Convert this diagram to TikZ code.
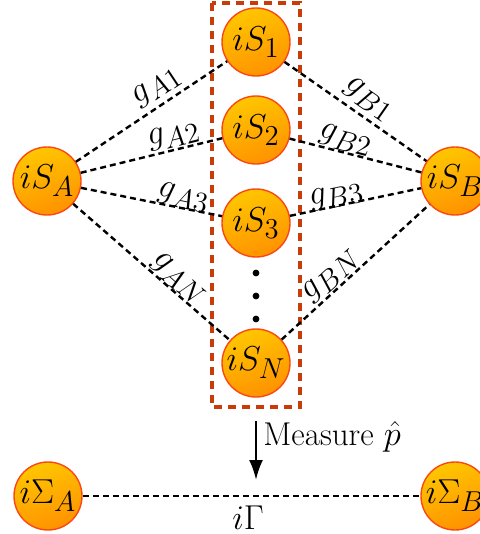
\documentclass[tikz,border=0pt]{standalone}
\usetikzlibrary{arrows.meta}
\definecolor{ballTop}{RGB}{255,198,0}
\definecolor{ballBot}{RGB}{255,146,0}
\definecolor{ballRim}{RGB}{250,72,20}
\definecolor{boxRed}{RGB}{200,60,10}
\tikzset{
  site/.style={circle, minimum size=34pt, inner sep=0pt, draw=ballRim, line width=0.7pt,
    top color=ballTop, bottom color=ballBot, shading angle=20,
    font=\fontsize{19}{22}\selectfont},
  coupling/.style={dash pattern=on 3pt off 2pt, line width=1.2pt, black},
  glabel/.style={sloped, anchor=base, inner sep=0pt, yshift=#1,
    font=\fontsize{19}{22}\selectfont},
  glabel/.default=3pt,
  txt/.style={font=\fontsize{16.5}{20}\selectfont},
}
\begin{document}
\begin{tikzpicture}[x=0.5pt, y=-0.5pt]
  \clip (0,0) rectangle (480,534);

  % dashed frame round the middle column
  \draw[boxRed, line width=1.6pt, dash pattern=on 4pt off 3pt] (212,3) rectangle (300,407);

  % sites
  \node[site] (SA) at (47,181) {$iS_A$};
  \node[site] (SB) at (455,181) {$iS_B$};
  \node[site] (S1) at (256,42) {$iS_1$};
  \node[site] (S2) at (256,130) {$iS_2$};
  \node[site] (S3) at (256,223) {$iS_3$};
  \node[site] (SN) at (256,363) {$iS_N$};

  % vertical ellipsis
  \foreach \yy [count=\k] in {273,296,319}
    \fill (256,\yy) circle (1.7pt) coordinate (dot\k);

  % couplings from A
  \draw[coupling] (SA) -- node[glabel=7pt, pos=0.60] {$g_{A1}$} (S1);
  \draw[coupling] (SA) -- node[glabel=5pt, pos=0.68] {$g_{A2}$} (S2);
  \draw[coupling] (SA) -- node[glabel=3.5pt, pos=0.71] {$g_{A3}$} (S3);
  \draw[coupling] (SA) -- node[glabel=4.5pt, pos=0.62] {$g_{AN}$} (SN);

  % couplings from B
  \draw[coupling] (S1) -- node[glabel=7pt, pos=0.52] {$g_{B1}$} (SB);
  \draw[coupling] (S2) -- node[glabel=4.5pt, pos=0.40] {$g_{B2}$} (SB);
  \draw[coupling] (S3) -- node[glabel=3pt, pos=0.37] {$g_{B3}$} (SB);
  \draw[coupling] (SN) -- node[glabel=5pt, pos=0.40] {$g_{BN}$} (SB);

  % measurement step
  \coordinate (mTop) at (256,421);
  \coordinate (mBot) at (256,480);
  \draw[line width=1.2pt, -{Latex[length=10pt, width=7pt]}] (mTop) -- (mBot);
  \node[txt, anchor=west, inner sep=0pt] (meas) at (263,437) {Measure $\hat{p}$};

  % effective pair
  \node[site] (GA) at (48,496) {$i\Sigma_A$};
  \node[site] (GB) at (455,496) {$i\Sigma_B$};
  \draw[coupling] (GA) -- node[txt, below=1pt, pos=0.49] {$i\Gamma$} (GB);
\end{tikzpicture}
\end{document}
